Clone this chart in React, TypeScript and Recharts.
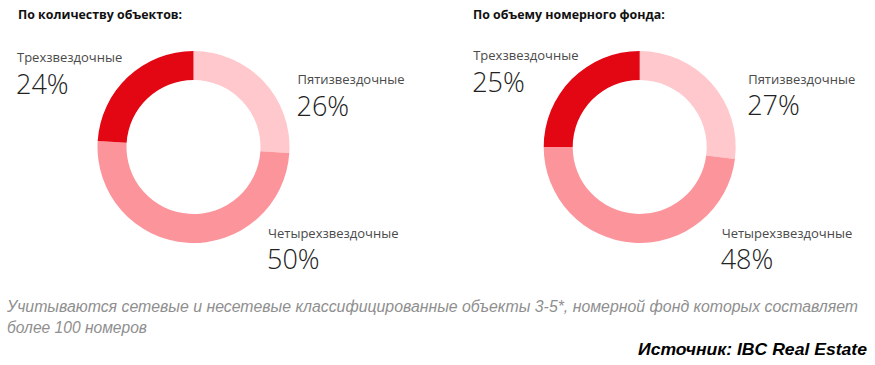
import { PieChart, Pie, Cell } from "recharts";

const CATEGORIES = ["Пятизвездочные", "Четырехзвездочные", "Трехзвездочные"];
const BY_OBJECTS = [26, 50, 24];
const BY_ROOMS = [27, 48, 25];
const COLORS = ["#FEC8CC", "#FC959B", "#E30613"];

const TITLE_LEFT = "По количеству объектов:";
const TITLE_RIGHT = "По объему номерного фонда:";
const NOTE_1 =
  "Учитываются сетевые и несетевые классифицированные объекты 3-5*, номерной фонд которых составляет";
const NOTE_2 = "более 100 номеров";
const SOURCE = "Источник: IBC Real Estate";

// label placement relative to pie centre, per category (name baseline, pct baseline)
const LEFT_LABELS = [
  { dx: 104, nameY: -63.5, pctY: -31.5 },
  { dx: 74.5, nameY: 90.5, pctY: 122 },
  { dx: -176.5, nameY: -85, pctY: -53.5 },
];
const RIGHT_LABELS = [
  { dx: 108.5, nameY: -63.5, pctY: -32 },
  { dx: 82, nameY: 90.5, pctY: 121.5 },
  { dx: -166.5, nameY: -87, pctY: -55.5 },
];

const makeData = (vals: number[]) =>
  CATEGORIES.map((name, i) => ({ name, value: vals[i] }));

const FONT = "'Open Sans', sans-serif";
const NOTE_FONT = "'Liberation Sans Narrow', 'Liberation Sans', Arial, sans-serif";

const labelRenderer = (pos: typeof LEFT_LABELS) => (props: any) => {
  const { cx, cy, index, name, value } = props;
  const p = pos[index];
  return (
    <g key={`lbl-${index}`}>
      <text
        x={cx + p.dx}
        y={cy + p.nameY}
        fill="#4a4a4a"
        fontSize={13}
        fontFamily={FONT}
        textAnchor="start"
      >
        {name}
      </text>
      <text
        x={cx + p.dx - 1}
        y={cy + p.pctY}
        fill="#222"
        fontSize={27}
        fontWeight={300}
        fontFamily={FONT}
        textAnchor="start"
      >
        {value}%
      </text>
    </g>
  );
};

const titleStyle = {
  position: "absolute" as const,
  top: 6,
  fontFamily: FONT,
  fontWeight: 700,
  fontSize: 12.4,
  color: "#111",
  whiteSpace: "nowrap" as const,
};

export default function App() {
  return (
    <div
      style={{
        position: "absolute",
        left: 0,
        top: 0,
        width: 875,
        height: 365,
        background: "#fff",
      }}
    >
      <div style={{ ...titleStyle, left: 18 }}>{TITLE_LEFT}</div>
      <div style={{ ...titleStyle, left: 473 }}>{TITLE_RIGHT}</div>
      <div style={{ position: "absolute", left: 0, top: 0 }}>
        <PieChart
          width={875}
          height={290}
          margin={{ top: 0, right: 0, bottom: 0, left: 0 }}
        >
          <Pie
            data={makeData(BY_OBJECTS)}
            dataKey="value"
            nameKey="name"
            cx={193.5}
            cy={147}
            innerRadius={67}
            outerRadius={96}
            startAngle={90}
            endAngle={-270}
            stroke="none"
            label={labelRenderer(LEFT_LABELS)}
            labelLine={false}
            isAnimationActive={false}
          >
            {CATEGORIES.map((c, i) => (
              <Cell key={c} fill={COLORS[i]} />
            ))}
          </Pie>
          <Pie
            data={makeData(BY_ROOMS)}
            dataKey="value"
            nameKey="name"
            cx={639.7}
            cy={147}
            innerRadius={67}
            outerRadius={96}
            startAngle={90}
            endAngle={-270}
            stroke="none"
            label={labelRenderer(RIGHT_LABELS)}
            labelLine={false}
            isAnimationActive={false}
          >
            {CATEGORIES.map((c, i) => (
              <Cell key={c} fill={COLORS[i]} />
            ))}
          </Pie>
        </PieChart>
      </div>
      <svg
        width={875}
        height={75}
        style={{ position: "absolute", left: 0, top: 290 }}
      >
        <text
          x={7}
          y={22}
          fontFamily={NOTE_FONT}
          fontStyle="italic"
          fontSize={16}
          fill="#8f8f8f"
          textLength={851}
          lengthAdjust="spacingAndGlyphs"
        >
          {NOTE_1}
        </text>
        <text
          x={7}
          y={43}
          fontFamily={NOTE_FONT}
          fontStyle="italic"
          fontSize={16}
          fill="#8f8f8f"
          textLength={140}
          lengthAdjust="spacingAndGlyphs"
        >
          {NOTE_2}
        </text>
        <text
          x={638}
          y={65}
          fontFamily={NOTE_FONT}
          fontStyle="italic"
          fontWeight={700}
          fontSize={17}
          fill="#000"
          textLength={229}
          lengthAdjust="spacingAndGlyphs"
        >
          {SOURCE}
        </text>
      </svg>
    </div>
  );
}
